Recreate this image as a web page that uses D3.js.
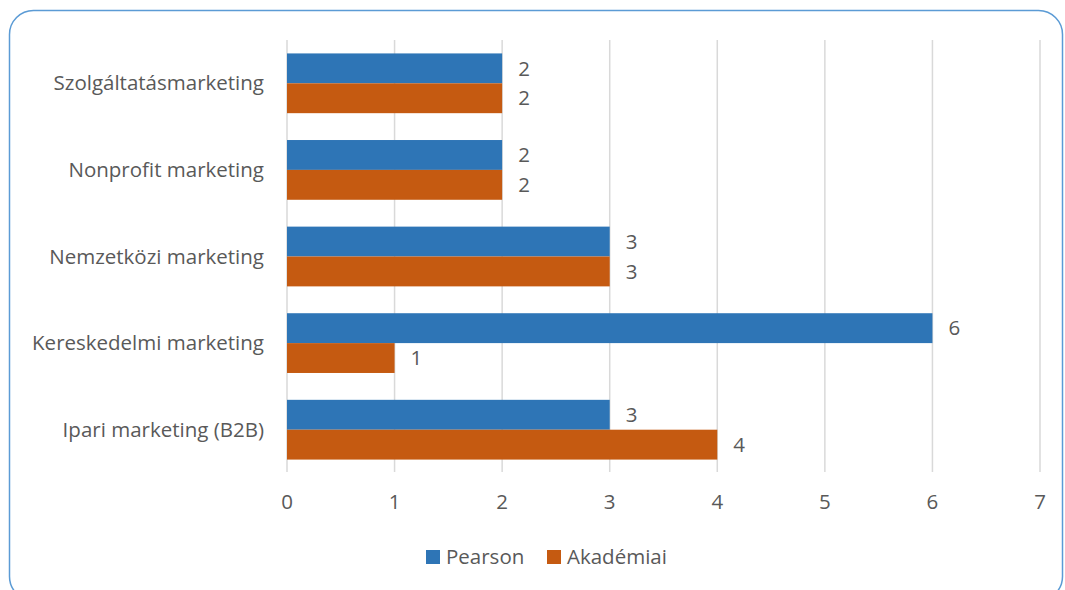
<!DOCTYPE html>
<meta charset="utf-8">
<script src="https://d3js.org/d3.v7.min.js"></script>
<style>
  body { margin: 0; background: #fff; }
  text { font-family: 'Open Sans', 'Noto Sans', sans-serif; fill: #595959; }
</style>
<div id="chart"></div>
<script>
// data
var categories = ["Szolgáltatásmarketing", "Nonprofit marketing", "Nemzetközi marketing", "Kereskedelmi marketing", "Ipari marketing (B2B)"];
var seriesNames = ["Pearson", "Akadémiai"];
var pearson = [2, 2, 3, 6, 3];
var akademiai = [2, 2, 3, 1, 4];
var xTicks = [0, 1, 2, 3, 4, 5, 6, 7];
var colors = ["#2e75b6", "#c55a11"];

var W = 1065, H = 590;
var fs = "20.5px";

var svg = d3.select("#chart").append("svg")
  .attr("width", W).attr("height", H);

// frame
svg.append("rect")
  .attr("x", 9.5).attr("y", 10.5)
  .attr("width", 1053).attr("height", 590)
  .attr("rx", 24).attr("ry", 24)
  .attr("fill", "#fff")
  .attr("stroke", "#5b9bd5")
  .attr("stroke-width", 1.5);

var x = d3.scaleLinear().domain([0, 7]).range([287, 1040]);
var y = d3.scaleBand().domain(categories).range([40, 473])
  .paddingInner(0.31).paddingOuter(0.155);
var y1 = d3.scaleBand().domain(seriesNames).range([0, y.bandwidth()]);

// gridlines
svg.append("g").selectAll("line").data(xTicks).join("line")
  .attr("x1", d => x(d)).attr("x2", d => x(d))
  .attr("y1", 40).attr("y2", 472)
  .attr("stroke", "#d9d9d9").attr("stroke-width", 1.5);

// x tick labels
svg.append("g").selectAll("text").data(xTicks).join("text")
  .attr("x", d => x(d)).attr("y", 502)
  .attr("dy", "0.35em")
  .attr("text-anchor", "middle")
  .style("font-size", fs)
  .text(d => d);

// category labels
svg.append("g").selectAll("text").data(categories).join("text")
  .attr("x", 264).attr("y", d => y(d) + y.bandwidth() / 2)
  .attr("dy", "0.35em")
  .attr("text-anchor", "end")
  .style("font-size", fs)
  .text(d => d);

var rows = [];
categories.forEach(function(c, i) {
  rows.push({cat: c, s: "Pearson", v: pearson[i], k: 0});
  rows.push({cat: c, s: "Akadémiai", v: akademiai[i], k: 1});
});

svg.append("g").selectAll("rect").data(rows).join("rect")
  .attr("x", x(0))
  .attr("y", d => y(d.cat) + y1(d.s))
  .attr("width", d => x(d.v) - x(0))
  .attr("height", y1.bandwidth())
  .attr("fill", d => colors[d.k]);

svg.append("g").selectAll("text").data(rows).join("text")
  .attr("x", d => x(d.v) + 16)
  .attr("y", d => y(d.cat) + y1(d.s) + y1.bandwidth() / 2)
  .attr("dy", "0.35em")
  .style("font-size", fs)
  .text(d => d.v);

// legend
var legend = svg.append("g").attr("transform", "translate(426,557)");
var lx = [0, 121];
seriesNames.forEach(function(n, i) {
  var g = legend.append("g").attr("transform", "translate(" + lx[i] + ",0)");
  g.append("rect").attr("x", 0).attr("y", -7).attr("width", 14).attr("height", 14)
    .attr("fill", colors[i]);
  g.append("text").attr("x", 20).attr("y", 0).attr("dy", "0.35em")
    .style("font-size", fs).text(n);
});
</script>
